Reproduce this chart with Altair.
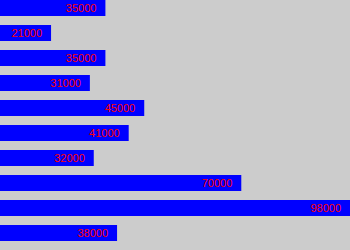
import altair as alt
import pandas as pd

salaries = [35000, 21000, 35000, 31000, 45000, 41000, 32000, 70000, 98000, 38000]
labels = ["35000", "21000", "35000", "31000", "45000", "41000", "32000", "70000", "98000", "38000"]
rows = [f"r{i}" for i in range(len(salaries))]
axis_min = 7850
axis_max = 98000

df = pd.DataFrame({"row": rows, "value": salaries, "label": labels, "base": [axis_min] * len(salaries)})

x_scale = alt.Scale(domain=[axis_min, axis_max], zero=False, nice=False)
y_scale = alt.Scale(domain=rows, paddingInner=0.36, paddingOuter=0.18, align=0)

base = alt.Chart(df).encode(
    y=alt.Y("row:N", scale=y_scale, axis=None, sort=None),
)

bars = base.mark_bar(color="#0000ff").encode(
    x=alt.X("value:Q", scale=x_scale, axis=None),
    x2="base:Q",
)

text = base.mark_text(
    color="#ff0000", align="right", baseline="middle", dx=-9, dy=1,
    font="Liberation Sans", fontSize=11,
).encode(
    x=alt.X("value:Q", scale=x_scale, axis=None),
    text="label:N",
)

chart = (bars + text).properties(
    width=350, height=250, background="#cccccc", padding=0,
    autosize=alt.AutoSizeParams(type="none"),
).configure_view(stroke=None)

chart.save("out.html", embed_options={"renderer": "svg", "actions": False})
